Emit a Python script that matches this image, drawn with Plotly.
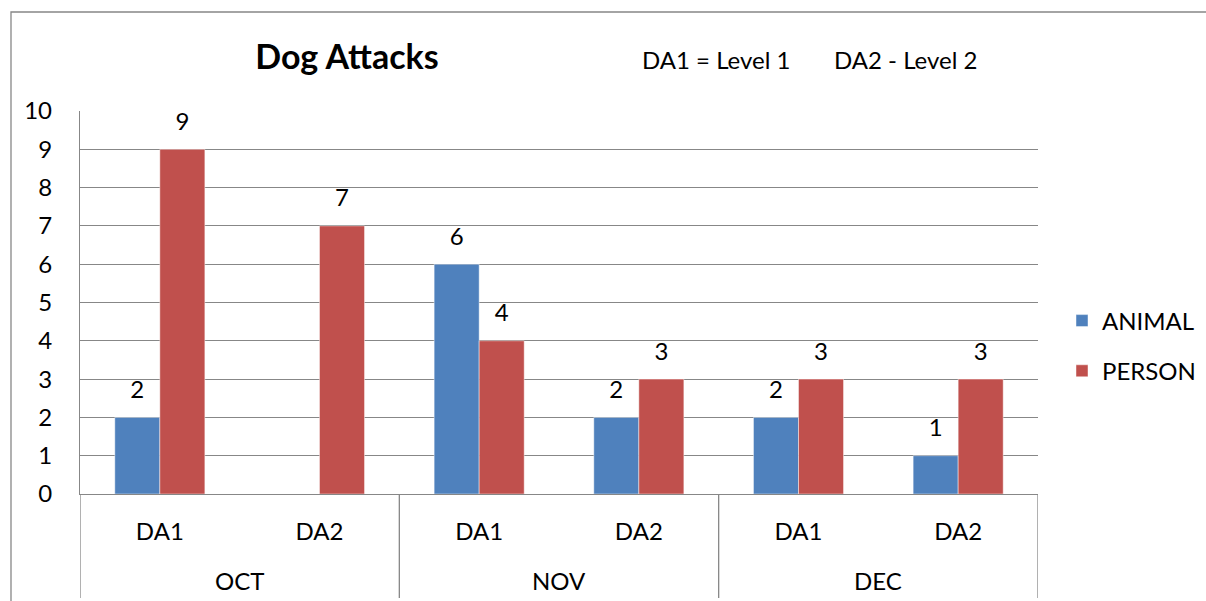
import plotly.graph_objects as go

months = ["OCT", "OCT", "NOV", "NOV", "DEC", "DEC"]
levels = ["DA1", "DA2", "DA1", "DA2", "DA1", "DA2"]
animal = [2, None, 6, 2, 2, 1]
person = [9, 7, 4, 3, 3, 3]
series_names = ["ANIMAL", "PERSON"]
colors = ["#4F81BD", "#C0504D"]
title_text = "Dog Attacks"
notes = ["DA1 = Level 1", "DA2 - Level 2"]

FONT = "Lato, Carlito, Calibri, sans-serif"
GRID = "#878787"
FS = 24

idx = list(range(len(levels)))

fig = go.Figure()
for name, vals, col in zip(series_names, [animal, person], colors):
    fig.add_trace(go.Bar(
        x=idx, y=vals, name=name, offsetgroup=name,
        marker=dict(color=col, line=dict(color="rgba(255,255,255,0.45)", width=1)),
        legendgroup=name, hoverinfo="skip",
    ))
for name, vals in zip(series_names, [animal, person]):
    fig.add_trace(go.Scatter(
        x=idx, y=vals, mode="markers+text", offsetgroup=name,
        text=[("" if v is None else str(v)) for v in vals],
        textposition="top center",
        textfont=dict(size=FS, color="black", family=FONT),
        marker=dict(size=20, color="rgba(0,0,0,0)"),
        showlegend=False, cliponaxis=False, hoverinfo="skip",
    ))

# month group labels and dividers derived from the data
groups = []
for i, m in enumerate(months):
    if not groups or groups[-1][0] != m:
        groups.append([m, i, i])
    else:
        groups[-1][2] = i

x0 = 80
pw = 958
ph = 383

for m, a, b in groups:
    fig.add_annotation(text=m, x=(a + b) / 2, xref="x", y=(494 - 580) / ph, yref="paper",
                       yanchor="middle", showarrow=False, font=dict(size=FS, family=FONT))
bounds = [groups[0][1] - 0.5] + [g[2] + 0.5 for g in groups]
for bx in bounds:
    fig.add_shape(type="line", xref="x", yref="paper", x0=bx, x1=bx, y0=0,
                  y1=(494 - 598) / ph, line=dict(color=GRID, width=1.3))

fig.update_layout(
    width=1206, height=601,
    margin=dict(l=80, r=168, t=111, b=107),
    paper_bgcolor="white", plot_bgcolor="white",
    font=dict(family=FONT, size=FS, color="black"),
    barmode="group", bargap=0.436, bargroupgap=0,
    scattermode="group", scattergap=0.436,
    title=dict(text="<b>" + title_text + "</b>", x=347 / 1206, xref="container", xanchor="center",
               y=1 - 57 / 601, yref="container", yanchor="middle",
               font=dict(size=34, family=FONT, color="black")),
    legend=dict(xref="container", yref="container", x=1062 / 1206, xanchor="left",
                y=1 - 346 / 601, yanchor="middle",
                font=dict(size=FS, family=FONT), tracegroupgap=16, itemwidth=30),
    showlegend=True,
)
fig.update_yaxes(range=[0, 10], dtick=1, showgrid=True, gridcolor=GRID, gridwidth=1.3,
                 showline=True, linecolor=GRID, linewidth=1.3, ticks="",
                 ticklabelstandoff=22, tickfont=dict(size=FS), zeroline=False,
                 fixedrange=True)
fig.update_xaxes(range=[-0.5, len(levels) - 0.5], tickvals=idx, ticktext=levels,
                 showline=True, linecolor=GRID, linewidth=1.3, showgrid=False,
                 ticks="", tickfont=dict(size=FS), ticklabelstandoff=16,
                 zeroline=False, fixedrange=True)

for txt, px in zip(notes, [640, 832]):
    fig.add_annotation(text=txt, xref="paper", yref="paper", x=(px - x0) / pw, xanchor="left",
                       y=(494 - 60) / ph, yanchor="middle", showarrow=False,
                       font=dict(size=FS, family=FONT))

fig.add_shape(type="rect", xref="paper", yref="paper",
              x0=(11 - x0) / pw, x1=1.4, y0=-0.7, y1=(494 - 12) / ph,
              line=dict(color=GRID, width=1.3), fillcolor="rgba(0,0,0,0)", layer="below")

fig.write_html("out.html", config={"displayModeBar": False},
               post_script="document.body.style.margin='0';")
